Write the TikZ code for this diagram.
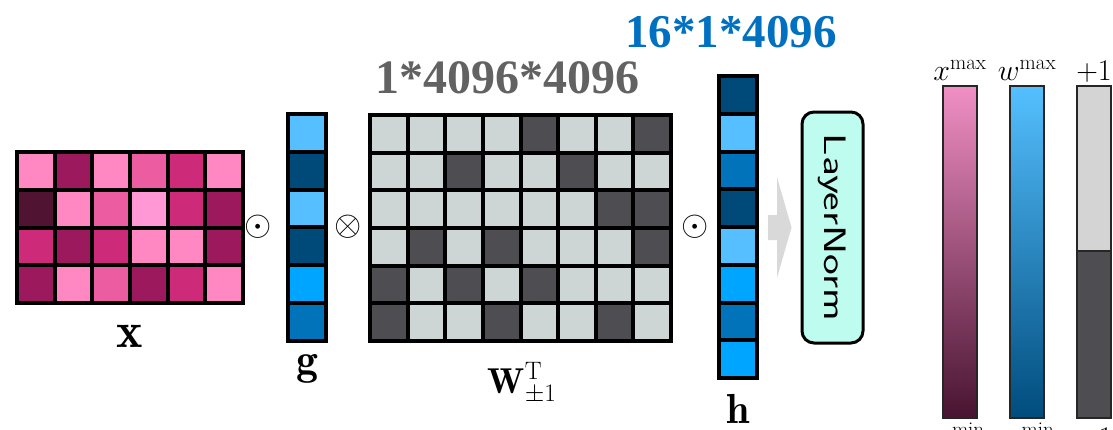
\documentclass[tikz,border=0pt]{standalone}
\usepackage{fix-cm}
\usepackage{fontspec}
\usetikzlibrary{calc}
\newfontfamily\timesb{Liberation Serif}[BoldFont={Liberation Serif Bold}]
\definecolor{xA}{RGB}{255,136,194}
\definecolor{xB}{RGB}{255,152,212}
\definecolor{xC}{RGB}{236,92,160}
\definecolor{xD}{RGB}{205,42,122}
\definecolor{xE}{RGB}{156,25,93}
\definecolor{xF}{RGB}{80,20,50}
\definecolor{bL}{RGB}{85,191,255}
\definecolor{bN}{RGB}{0,74,122}
\definecolor{bB}{RGB}{0,165,255}
\definecolor{bM}{RGB}{0,115,186}
\definecolor{wL}{RGB}{205,214,213}
\definecolor{wD}{RGB}{78,77,82}
\definecolor{titlegray}{RGB}{98,98,98}
\definecolor{titleblue}{RGB}{0,112,192}
\definecolor{arrowgray}{RGB}{217,217,217}
\definecolor{lnfill}{RGB}{190,252,240}
\definecolor{barAtop}{RGB}{240,143,196}
\definecolor{barAbot}{RGB}{72,20,48}
\definecolor{barBtop}{RGB}{85,192,255}
\definecolor{barBbot}{RGB}{0,76,125}
\definecolor{barCtop}{RGB}{212,212,212}
\tikzset{
  mathlbl/.style={inner sep=0pt, anchor=base},
  bigop/.style={inner sep=0pt, font=\fontsize{35}{42}\selectfont},
  legendlbl/.style={inner sep=0pt, anchor=base, font=\fontsize{30}{36}\selectfont},
  legbar/.style={draw=black!85, line width=1.5pt},
  lnbox/.style={draw=black, line width=3pt, fill=lnfill, rounded corners=12pt, minimum width=61pt, minimum height=231pt, inner sep=0pt},
}
\begin{document}
\begin{tikzpicture}[x=1pt,y=-1pt]
\useasboundingbox (0,0) rectangle (1113,429);
\clip (0,0) rectangle (1113,429);

% ---------- X matrix ----------
\fill[black] (15,150) rectangle (245,305);
\foreach \row [count=\j from 0] in {{xA,xE,xA,xC,xD,xA},{xF,xA,xC,xB,xD,xE},{xD,xE,xD,xA,xA,xE},{xE,xA,xC,xE,xD,xA}}{
  \foreach \c [count=\i from 0] in \row {
    \fill[\c] ({17+\i*37.67+2},{152+\j*37.75+2}) rectangle ++(33.67,33.75);
  }
}
\coordinate (Xc) at (130,227);
\node[mathlbl, font=\fontsize{50}{60}\selectfont] (xlbl) at (130,347) {$\mathbf{x}$};

% ---------- odot ----------
\node[bigop] (op1) at (258,227) {$\odot$};

% ---------- g vector ----------
\fill[black] (286,112) rectangle (328,343);
\foreach \c [count=\j from 0] in {bL,bN,bL,bN,bB,bM}{
  \fill[\c] (290,{114+\j*37.83+2}) rectangle ++(34,33.83);
}
\node[mathlbl, font=\fontsize{44}{52}\selectfont] (glbl) at (307,374) {$\mathbf{g}$};

% ---------- otimes ----------
\node[bigop] (op2) at (348.5,227) {$\otimes$};

% ---------- W matrix ----------
\fill[black] (368,113) rectangle (673,343);
\foreach \row [count=\j from 0] in {{wL,wL,wL,wL,wD,wL,wL,wD},{wL,wL,wD,wL,wL,wD,wL,wL},{wL,wL,wL,wL,wL,wL,wD,wD},{wL,wD,wL,wD,wL,wL,wL,wD},{wD,wL,wD,wL,wD,wL,wL,wL},{wD,wL,wL,wD,wL,wL,wD,wL}}{
  \foreach \c [count=\i from 0] in \row {
    \fill[\c] ({370+\i*37.625+2},{115+\j*37.67+2}) rectangle ++(33.625,33.67);
  }
}
\node[mathlbl, font=\fontsize{36}{44}\selectfont] (wlbl) at (522,393) {$\mathbf{W}_{\pm1}^{\mathrm{T}}$};
\node[inner sep=0pt, anchor=base, text=titlegray, font=\timesb\bfseries\fontsize{48}{56}\selectfont] (wdim) at (507.5,93) {1*4096*4096};

% ---------- odot ----------
\node[bigop] (op3) at (695,227) {$\odot$};

% ---------- h vector ----------
\fill[black] (717,74) rectangle (759,380);
\foreach \c [count=\j from 0] in {bN,bL,bM,bN,bL,bB,bM,bB}{
  \fill[\c] (721,{76+\j*37.75+2}) rectangle ++(34,33.75);
}
\coordinate (hr) at (759,227);
\node[mathlbl, font=\fontsize{42}{50}\selectfont] (hlbl) at (738,423) {$\mathbf{h}$};
\node[inner sep=0pt, anchor=base, text=titleblue, font=\timesb\bfseries\fontsize{47}{56}\selectfont] (hdim) at (731,47) {16*1*4096};

% ---------- LayerNorm ----------
\node[lnbox] (ln) at (832.5,227.5) {};
\node[inner sep=0pt, rotate=-90, font=\sffamily\fontsize{31}{36}\selectfont] (lntxt) at (ln.center) {\scalebox{1.42}[1]{LayerNorm}};

% ---------- block arrow ----------
\fill[arrowgray] ($(hr)+(9,-12)$) -- ++(9,0) -- ++(0,-38) -- ($(ln.west)+(-9,0)$) -- ($(hr)+(18,51)$) -- ++(0,-38) -- ++(-9,0) -- cycle;

% ---------- legend ----------
\shade[top color=barAtop, bottom color=barAbot] (943,86) rectangle (977,418);
\draw[legbar] (943,86) rectangle (977,418);
\shade[top color=barBtop, bottom color=barBbot] (1010,86) rectangle (1044,418);
\draw[legbar] (1010,86) rectangle (1044,418);
\fill[barCtop] (1077,86) rectangle (1111,251);
\fill[wD] (1077,251) rectangle (1111,418);
\draw[legbar] (1077,86) rectangle (1111,418);
\draw[legbar] (1077,251) -- (1111,251);

\node[legendlbl] (xmax) at (960,80) {$x^{\max}$};
\node[legendlbl] (wmax) at (1027,80) {$w^{\max}$};
\node[legendlbl] (pone) at (1094,80) {$+1$};
\node[legendlbl] (xmin) at (960,447) {$x^{\min}$};
\node[legendlbl] (wmin) at (1027,447) {$w^{\min}$};
\node[legendlbl] (mone) at (1094,447) {$-1$};
\end{tikzpicture}
\end{document}
